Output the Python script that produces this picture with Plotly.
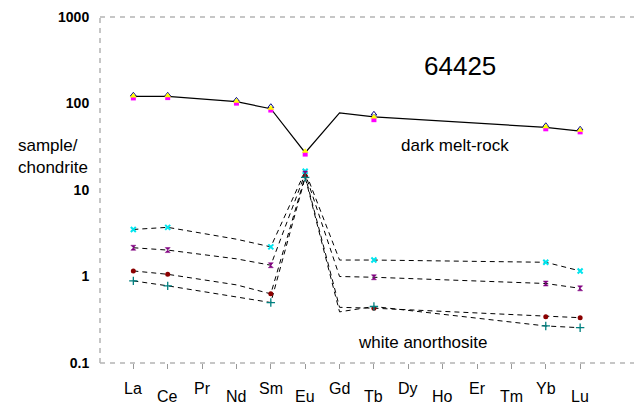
import plotly.graph_objects as go

elements = ["La", "Ce", "Pr", "Nd", "Sm", "Eu", "Gd", "Tb", "Dy", "Ho", "Er", "Tm", "Yb", "Lu"]
x_idx = list(range(len(elements)))

# dark melt-rock (average line, includes Gd without marker)
dark_line = [121, 121, None, 105, 87, 27, 78, 70, None, None, None, None, 53, 48]
dark_magenta = [116, 117, None, 101, 84, 26, None, 65, None, None, None, None, 51, 47]
dark_yellow = [122, 123, None, 106, 88, 28, None, 70, None, None, None, None, 54, 49]
dark_navy = [126, 126, None, 110, 93, None, None, 76, None, None, None, None, 56, 51]

# white anorthosite (Nd and Gd only on the lines)
wa_cyan = [3.5, 3.7, None, 2.7, 2.2, 16.5, 1.55, 1.55, None, None, None, None, 1.46, 1.16]
wa_purple = [2.15, 2.02, None, 1.6, 1.35, 15.5, 1.0, 0.98, None, None, None, None, 0.83, 0.73]
wa_red = [1.16, 1.06, None, 0.8, 0.63, 14.5, 0.44, 0.43, None, None, None, None, 0.343, 0.334]
wa_teal = [0.89, 0.78, None, 0.58, 0.50, 14.0, 0.39, 0.45, None, None, None, None, 0.268, 0.256]

no_marker = {"Nd", "Gd"}

y_ticks = [0.1, 1, 10, 100, 1000]
y_tick_labels = ["0.1", "1", "10", "100", "1000"]

FONT = "Arial, Liberation Sans, sans-serif"

# page offset (browser body margin) compensation
OFF = 8
W, H = 642 - OFF, 404 - OFF
L, T, B = 100 - OFF, 17 - OFF, 404 - 363
PW, PH = W - L, H - T - B


def px_x(px):
    return (px - 100) / PW


def px_y(py):
    return (363 - py) / PH


def marker_only(vals):
    return [None if elements[i] in no_marker else v for i, v in enumerate(vals)]


fig = go.Figure()

for vals in [wa_cyan, wa_purple, wa_red, wa_teal]:
    fig.add_trace(go.Scatter(x=x_idx, y=vals, mode="lines", connectgaps=True,
                             line=dict(color="black", width=1, dash="5px,4px"),
                             hoverinfo="skip", showlegend=False))

fig.add_trace(go.Scatter(x=x_idx, y=dark_line, mode="lines", connectgaps=True,
                         line=dict(color="black", width=1.2),
                         hoverinfo="skip", showlegend=False))

wa_styles = [
    (wa_cyan, dict(symbol="x-thin-open", size=5, line=dict(color="#00E5EE", width=2), color="#00E5EE")),
    (wa_purple, dict(symbol="hourglass", size=5, color="#800080", line=dict(color="#800080", width=0.5))),
    (wa_red, dict(symbol="circle", size=5, color="#8B0000", line=dict(width=0))),
    (wa_teal, dict(symbol="cross-thin-open", size=6, line=dict(color="#008080", width=1.3), color="#008080")),
]
for vals, mk in wa_styles:
    fig.add_trace(go.Scatter(x=x_idx, y=marker_only(vals), mode="markers", marker=mk,
                             showlegend=False))

fig.add_trace(go.Scatter(x=x_idx, y=dark_magenta, mode="markers",
                         marker=dict(symbol="square", size=5, color="#FF00FF", line=dict(width=0)),
                         showlegend=False))
fig.add_trace(go.Scatter(x=x_idx, y=dark_navy, mode="markers",
                         marker=dict(symbol="triangle-up-open", size=5, color="#000080",
                                     line=dict(color="#000080", width=1)),
                         showlegend=False))
fig.add_trace(go.Scatter(x=x_idx, y=dark_yellow, mode="markers",
                         marker=dict(symbol="triangle-up", size=6, color="#FFFF00",
                                     line=dict(width=0)),
                         showlegend=False))

fig.update_layout(
    width=W, height=H,
    margin=dict(l=L, r=0, t=T, b=B, autoexpand=False),
    paper_bgcolor="white", plot_bgcolor="white",
    font=dict(family=FONT, color="black"),
    xaxis=dict(range=[-0.97, 14.8], tickvals=x_idx, showticklabels=False,
               showgrid=False, zeroline=False, showline=False,
               ticks="outside", ticklen=5, tickcolor="#999999", tickwidth=1),
    yaxis=dict(type="log", range=[-1, 3], tickvals=y_ticks,
               ticktext=["<b>%s</b>" % t for t in y_tick_labels],
               showgrid=False, zeroline=False, showline=False,
               ticks="outside", ticklen=7, tickcolor="rgba(0,0,0,0)",
               tickfont=dict(size=14, family=FONT)),
)

# staggered element labels (alternating rows) placed at the axis categories
for i, el in enumerate(elements):
    fig.add_annotation(text=el, xref="x", yref="paper", x=i, y=0,
                       yanchor="middle", xanchor="center", showarrow=False,
                       yshift=-25 if i % 2 == 0 else -33,
                       font=dict(size=16, family=FONT))

dash_line = dict(color="#B4B4B4", width=1.5, dash="5px,5px")
fig.add_shape(type="line", xref="paper", yref="paper", x0=0, x1=0, y0=0, y1=1, line=dash_line)
fig.add_shape(type="line", xref="paper", yref="paper", x0=0, x1=1, y0=1, y1=1, line=dash_line)
fig.add_shape(type="line", xref="paper", yref="paper", x0=0, x1=1, y0=0, y1=0, line=dash_line)

fig.add_annotation(text="64425", xref="paper", yref="paper", x=px_x(460), y=px_y(66),
                   showarrow=False, font=dict(size=26, family=FONT), xanchor="center", yanchor="middle")
fig.add_annotation(text="dark melt-rock", xref="paper", yref="paper", x=px_x(455), y=px_y(145),
                   showarrow=False, font=dict(size=17, family=FONT), xanchor="center", yanchor="middle")
fig.add_annotation(text="white anorthosite", xref="paper", yref="paper", x=px_x(423), y=px_y(342),
                   showarrow=False, font=dict(size=17, family=FONT), xanchor="center", yanchor="middle")
fig.add_annotation(text="sample/<br>chondrite", xref="paper", yref="paper", x=px_x(16), y=px_y(156),
                   showarrow=False, font=dict(size=17, family=FONT), xanchor="left", yanchor="middle",
                   align="left")

fig.write_html("out.html")
